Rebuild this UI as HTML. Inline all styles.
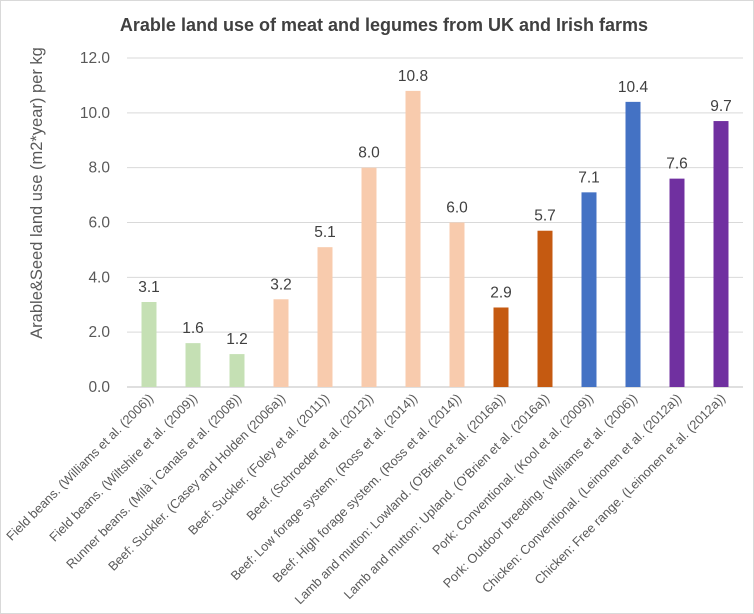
<!DOCTYPE html>
<html><head><meta charset="utf-8"><style>
body{margin:0;background:#fff}
svg{display:block;font-family:"Liberation Sans",sans-serif}
</style></head><body>
<svg id="c" width="754" height="614">
<rect x="0.5" y="0.5" width="753" height="613" fill="#fff" stroke="#d9d9d9"/>
<text x="384" y="31" text-anchor="middle" font-size="18" font-weight="bold" fill="#404040">Arable land use of meat and legumes from UK and Irish farms</text>
<text transform="translate(42,193) rotate(-90)" text-anchor="middle" font-size="16.5" fill="#595959">Arable&amp;Seed land use (m2*year) per kg</text>
<g id="grid"></g><g id="bars"></g><g id="labels"></g>
</svg>
<script>
const categories=["Field beans. (Williams et al. (2006))","Field beans. (Wiltshire et al. (2009))","Runner beans. (Milà i Canals et al. (2008))","Beef: Suckler. (Casey and Holden (2006a))","Beef: Suckler. (Foley et al. (2011))","Beef. (Schroeder et al. (2012))","Beef: Low forage system. (Ross et al. (2014))","Beef: High forage system. (Ross et al. (2014))","Lamb and mutton: Lowland. (O'Brien et al. (2016a))","Lamb and mutton: Upland. (O'Brien et al. (2016a))","Pork: Conventional. (Kool et al. (2009))","Pork: Outdoor breeding. (Williams et al. (2006))","Chicken: Conventional. (Leinonen et al. (2012a))","Chicken: Free range. (Leinonen et al. (2012a))"];
const values=[3.1,1.6,1.2,3.2,5.1,8.0,10.8,6.0,2.9,5.7,7.1,10.4,7.6,9.7];
const groups=["legume","legume","legume","beef","beef","beef","beef","beef","lamb","lamb","pork","pork","chicken","chicken"];
const yTicks=[0,2,4,6,8,10,12];
const colors={legume:"#c5e0b4",beef:"#f8cbad",lamb:"#c55a11",pork:"#4472c4",chicken:"#7030a0"};
const X0=127,X1=743,Y0=387,Y1=58,YMAX=12;
const step=(X1-X0)/categories.length;
const y=v=>Y0-(v/YMAX)*(Y0-Y1);
const xc=i=>X0+step*(i+0.5);
const NS="http://www.w3.org/2000/svg";
function mk(t,a,p){const e=document.createElementNS(NS,t);for(const k in a)e.setAttribute(k,a[k]);p.appendChild(e);return e;}
const grid=document.getElementById('grid'),bars=document.getElementById('bars'),labels=document.getElementById('labels');
yTicks.forEach(t=>{
 const l=mk('line',{x1:X0,x2:X1,y1:y(t),y2:y(t),stroke:t===0?'#bfbfbf':'#d9d9d9','stroke-width':1},grid);
 
 
 const tx=mk('text',{x:110,y:y(t)+5,'text-anchor':'end','font-size':15.5,fill:'#595959'},grid);
 tx.textContent=t.toFixed(1);
 
 
});
values.forEach((v,i)=>{
 const w=15;
 const r=mk('rect',{x:xc(i)-w/2,y:y(v),width:w,height:Y0-y(v),fill:colors[groups[i]]},bars);
 
 
 const t=mk('text',{x:xc(i),y:y(v)-10,'text-anchor':'middle','font-size':15.5,fill:'#404040'},bars);
 t.textContent=v.toFixed(1);
 
 
 const c=mk('text',{transform:`translate(${xc(i)+5},${Y0+12}) rotate(-45)`,'text-anchor':'end','font-size':12.8,fill:'#595959'},labels);
 c.textContent=categories[i];
 
 
});
</script>
</body></html>
